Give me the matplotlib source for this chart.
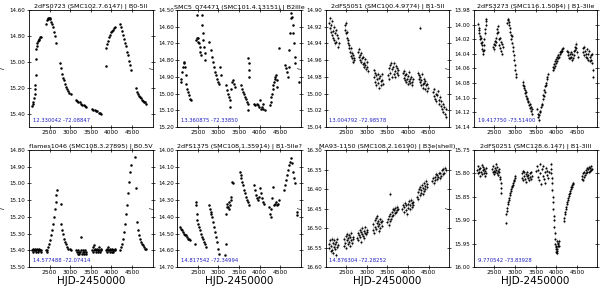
import numpy as np
import matplotlib.pyplot as plt
from matplotlib.ticker import MultipleLocator, FormatStrFormatter

titles = ['2dFS0723 (SMC102.7.6147) | B0-5II',
          'SMC5_074471 (SMC101.4.13151) | B2IIIe',
          '2dFS5051 (SMC100.4.9774) | B1-5II',
          '2dFS3273 (SMC116.1.5084) | B1-3IIe',
          'flames1046 (SMC108.3.27895) | B0.5V',
          '2dFS1375 (SMC108.1.35914) | B1-5IIe?',
          'MA93-1150 (SMC108.2.16190) | B3e(shell)',
          '2dFS0251 (SMC128.6.147) | B1-3III']
coords = ['12.330042 -72.08847', '13.360875 -72.33850', '13.004792 -72.98578',
          '19.417750 -73.51400', '14.577488 -72.07414', '14.817542 -72.34994',
          '14.876304 -72.28252', '9.770542 -73.83928']
ylims = [(15.5, 14.6), (15.2, 14.5), (15.04, 14.90), (14.14, 13.98),
         (15.5, 14.8), (14.7, 14.0), (16.6, 16.3), (16.0, 15.75)]
ysteps = [0.2, 0.1, 0.02, 0.02, 0.1, 0.1, 0.05, 0.05]
errs = [0, 0, 0.003, 0.003, 0, 0, 0.007, 0.004]
xticks = [2500, 3000, 3500, 4000, 4500]

lc1 = [(2073,15.34),(2089,15.32),(2105,15.31),(2122,15.28),(2138,15.25),(2146,15.21),(2154,15.18),(2162,15.10),
       (2170,14.98),(2178,14.90),(2194,14.88),(2203,14.85),(2219,14.84),(2235,14.83),(2251,14.82),(2267,14.81),(2284,14.81),
       (2421,14.71),(2437,14.68),(2454,14.67),(2470,14.66),(2486,14.66),(2502,14.66),(2518,14.67),(2543,14.69),(2567,14.71),
       (2591,14.73),(2616,14.77),(2640,14.80),(2664,14.85),
       (2761,15.01),(2786,15.05),(2810,15.09),(2834,15.12),(2859,15.14),(2883,15.17),(2907,15.19),(2932,15.21),(2956,15.22),
       (2980,15.24),(3013,15.25),
       (3134,15.29),(3166,15.30),(3199,15.31),(3231,15.31),(3264,15.32),(3296,15.33),(3328,15.33),(3361,15.34),(3393,15.35),
       (3531,15.36),(3563,15.37),(3596,15.37),(3628,15.38),(3660,15.38),(3693,15.39),(3725,15.39),(3758,15.40),
       (3863,15.03),(3879,14.89),(3904,14.86),(3928,14.84),(3952,14.81),(3976,14.79),(4001,14.77),(4025,14.76),(4049,14.75),
       (4074,14.74),(4098,14.73),
       (4219,14.71),(4244,14.73),(4268,14.76),(4292,14.79),(4317,14.82),(4341,14.85),(4365,14.88),(4389,14.92),(4414,14.95),
       (4438,14.99),(4462,15.02),(4487,15.06),
       (4600,15.20),(4624,15.23),(4649,15.25),(4673,15.26),(4697,15.27),(4722,15.28),(4746,15.29),(4770,15.30),(4795,15.31),
       (4819,15.31),(4851,15.32)]

lc2 = [(2081,14.93),(2097,14.91),(2113,14.87),(2130,14.84),(2154,14.82),(2170,14.81),(2186,14.84),(2203,14.89),(2219,14.94),
       (2235,14.97),(2251,14.99),(2275,15.01),(2300,15.03),(2324,15.04),
       (2454,14.68),(2470,14.53),(2478,14.67),(2494,14.69),(2510,14.67),(2527,14.70),(2543,14.72),(2559,14.75),(2575,14.77),
       (2591,14.53),(2599,14.59),(2616,14.64),(2632,14.68),(2648,14.72),(2664,14.76),(2680,14.80),(2778,14.69),
       (2818,14.74),(2842,14.78),(2867,14.81),(2891,14.84),(2915,14.87),(2940,14.89),(2964,14.91),(2988,14.93),(3013,14.94),
       (3037,14.84),(3053,14.89),
       (3183,14.95),(3207,14.98),(3231,15.00),(3256,15.02),(3280,15.04),(3280,15.08),(3304,14.97),(3328,14.93),(3353,14.92),
       (3377,14.94),(3401,14.96),
       (3539,14.95),(3563,14.97),(3588,14.99),(3612,15.00),(3636,15.02),(3661,15.03),(3685,15.05),(3709,15.06),(3709,15.10),
       (3725,14.79),(3734,14.82),(3742,14.86),(3750,14.90),
       (3863,15.06),(3895,15.07),(3928,15.06),(3960,15.07),(3993,15.08),(4025,15.09),(4058,15.08),(4090,15.09),(4122,15.10),
       (4009,15.04),(4074,15.06),
       (4252,15.07),(4268,15.05),(4284,15.02),(4300,15.00),(4317,14.97),(4333,14.95),(4349,14.93),(4365,14.91),(4381,14.90),
       (4397,14.89),(4414,14.92),(4430,14.96),(4479,14.73),
       (4616,14.83),(4641,14.85),(4665,14.87),(4689,14.90),(4705,14.84),(4722,14.74),(4738,14.64),(4754,14.55),(4770,14.52),
       (4786,14.54),(4803,14.59),(4819,14.64),(4835,14.70),(4851,14.78),(4868,14.82),(4949,14.93)]

lc3 = [(2082,14.915),(2095,14.922),(2108,14.910),(2121,14.926),(2134,14.918),(2147,14.930),(2160,14.913),(2173,14.925),
       (2186,14.933),(2199,14.920),(2212,14.936),(2225,14.927),(2238,14.940),(2251,14.924),(2264,14.938),(2277,14.930),
       (2290,14.944),(2305,14.933),(2318,14.940),
       (2462,14.918),(2475,14.924),(2488,14.915),(2501,14.928),(2514,14.934),(2527,14.926),(2540,14.940),(2553,14.936),
       (2566,14.945),(2579,14.942),(2592,14.950),(2605,14.946),(2618,14.955),(2631,14.951),(2644,14.958),(2657,14.954),
       (2670,14.962),(2685,14.957),(2700,14.960),
       (2786,14.950),(2800,14.956),(2814,14.947),(2828,14.960),(2842,14.954),(2856,14.962),(2870,14.951),(2884,14.958),
       (2898,14.965),(2912,14.956),(2926,14.963),(2940,14.968),(2954,14.959),(2968,14.966),(2982,14.971),(2996,14.962),
       (3010,14.968),(3025,14.973),
       (3166,14.972),(3180,14.980),(3194,14.975),(3208,14.986),(3222,14.978),(3236,14.990),(3250,14.982),(3264,14.976),
       (3278,14.987),(3292,14.981),(3306,14.993),(3320,14.979),(3334,14.985),(3348,14.990),(3362,14.977),(3376,14.984),
       (3390,14.988),
       (3515,14.978),(3530,14.970),(3545,14.982),(3560,14.966),(3575,14.975),(3590,14.963),(3605,14.980),(3620,14.971),
       (3635,14.968),(3650,14.976),(3665,14.964),(3680,14.973),(3695,14.980),(3710,14.967),(3725,14.975),(3740,14.970),
       (3755,14.978),(3770,14.972),
       (3879,14.975),(3893,14.981),(3907,14.973),(3921,14.984),(3935,14.978),(3949,14.986),(3963,14.976),(3977,14.982),
       (3991,14.988),(4005,14.979),(4019,14.985),(4033,14.974),(4047,14.983),(4061,14.987),(4075,14.980),(4089,14.986),
       (4103,14.990),(4118,14.983),
       (4244,14.975),(4258,14.982),(4272,14.978),(4284,14.921),(4286,14.986),(4300,14.980),(4314,14.990),(4328,14.984),
       (4342,14.976),(4356,14.988),(4370,14.993),(4384,14.982),(4398,14.987),(4412,14.995),(4426,14.985),(4440,14.990),
       (4454,14.997),(4468,14.988),(4482,14.993),
       (4608,14.998),(4625,15.003),(4642,14.995),(4659,15.006),(4676,15.000),(4693,15.009),(4710,15.002),(4727,14.997),
       (4744,15.008),(4761,15.012),(4778,15.004),(4795,15.015),(4812,15.009),(4829,15.019),(4846,15.012),(4863,15.022),
       (4880,15.016),(4897,15.025),(4914,15.018),(4930,15.028)]

lc4 = [(2105,13.999),(2115,14.004),(2125,14.008),(2135,14.012),(2145,14.016),(2155,14.020),(2165,14.018),(2175,14.025),
       (2185,14.028),(2195,14.024),(2205,14.033),(2215,14.036),(2225,14.040),(2235,14.035),(2245,14.028),(2255,14.020),
       (2265,14.012),(2275,14.006),(2285,14.000),(2295,13.995),(2305,13.992),
       (2470,14.030),(2482,14.026),(2494,14.034),(2506,14.022),(2518,14.028),(2530,14.018),(2542,14.024),(2554,14.012),
       (2566,14.006),(2578,14.002),(2590,14.010),(2602,14.020),(2614,14.028),(2626,14.018),(2638,14.032),(2650,14.024),
       (2662,14.036),(2674,14.026),(2686,14.040),(2697,14.030),
       (2810,13.998),(2822,13.994),(2834,13.992),(2846,13.996),(2858,14.000),(2870,14.005),(2882,14.010),(2894,14.014),
       (2906,14.020),(2918,14.016),(2930,14.025),(2942,14.030),(2954,14.036),(2966,14.042),(2978,14.048),(2990,14.055),
       (3002,14.062),(3014,14.068),(3026,14.072),
       (3183,14.078),(3196,14.082),(3209,14.086),(3222,14.084),(3235,14.090),(3248,14.094),(3261,14.092),(3274,14.098),
       (3287,14.102),(3300,14.100),(3313,14.106),(3326,14.104),(3339,14.110),(3352,14.108),(3365,14.114),(3378,14.112),
       (3391,14.118),(3404,14.116),(3417,14.122),
       (3539,14.115),(3552,14.122),(3565,14.126),(3578,14.130),(3591,14.124),(3604,14.118),(3617,14.120),(3630,14.112),
       (3643,14.108),(3656,14.110),(3669,14.102),(3682,14.096),(3695,14.098),(3708,14.090),(3721,14.092),(3734,14.084),
       (3747,14.080),(3760,14.082),(3773,14.075),(3786,14.072),(3800,14.068),
       (3912,14.062),(3925,14.058),(3938,14.060),(3951,14.054),(3964,14.056),(3977,14.050),(3990,14.052),(4003,14.047),
       (4016,14.050),(4029,14.044),(4042,14.046),(4055,14.041),(4068,14.044),(4081,14.038),(4094,14.040),(4107,14.036),
       (4120,14.038),(4133,14.034),(4146,14.036),(4160,14.032),
       (4268,14.036),(4282,14.042),(4296,14.038),(4310,14.045),(4324,14.040),(4338,14.046),(4352,14.038),(4366,14.044),
       (4380,14.048),(4394,14.040),(4408,14.045),(4422,14.036),(4436,14.042),(4450,14.035),(4464,14.030),(4478,14.026),
       (4492,14.032),(4506,14.038),(4520,14.044),
       (4641,14.032),(4655,14.038),(4669,14.030),(4683,14.042),(4697,14.036),(4711,14.044),(4725,14.040),(4739,14.034),
       (4753,14.046),(4767,14.040),(4781,14.048),(4795,14.036),(4809,14.044),(4823,14.050),(4837,14.042),(4851,14.048),
       (4865,14.040),(4879,14.052),(4893,14.062),(4905,14.072)]

lc5 = [(2073,15.40),(2090,15.39),(2105,15.41),(2120,15.40),(2135,15.39),(2150,15.40),(2165,15.41),(2180,15.40),
       (2195,15.39),(2210,15.40),(2225,15.41),(2240,15.40),(2255,15.39),(2270,15.40),(2285,15.40),(2300,15.41),
       (2420,15.40),(2430,15.41),(2437,15.40),(2462,15.38),(2486,15.36),(2510,15.34),(2535,15.31),(2559,15.28),(2583,15.24),
       (2608,15.20),(2632,15.15),(2648,15.11),(2664,15.07),(2680,15.04),(2770,15.12),
       (2786,15.24),(2802,15.28),(2818,15.30),(2842,15.33),(2867,15.35),(2891,15.36),(2923,15.38),(2956,15.39),(2988,15.39),
       (3021,15.40),
       (3150,15.40),(3165,15.41),(3180,15.42),(3195,15.40),(3210,15.41),(3225,15.42),(3240,15.41),(3255,15.40),(3272,15.32),
       (3285,15.42),(3300,15.41),(3315,15.40),(3330,15.42),(3345,15.41),(3360,15.40),(3375,15.41),(3390,15.42),
       (3530,15.40),(3545,15.38),(3560,15.41),(3575,15.40),(3590,15.37),(3605,15.39),(3620,15.41),(3635,15.40),(3650,15.39),
       (3665,15.41),(3680,15.40),(3695,15.38),(3710,15.40),(3725,15.41),(3740,15.40),(3755,15.39),
       (3870,15.40),(3885,15.39),(3900,15.41),(3915,15.40),(3930,15.38),(3945,15.40),(3960,15.41),(3975,15.39),(3990,15.40),
       (4005,15.41),(4020,15.39),(4035,15.40),(4050,15.41),(4065,15.40),(4080,15.39),(4095,15.40),
       (4219,15.40),(4244,15.38),(4268,15.36),(4292,15.33),(4317,15.29),(4341,15.24),(4365,15.18),(4389,15.13),(4414,15.06),
       (4438,14.99),(4462,14.93),(4487,14.89),(4568,14.84),
       (4608,15.03),(4632,15.23),(4657,15.28),(4681,15.31),(4705,15.33),(4730,15.35),(4754,15.36),(4778,15.37),(4803,15.38),
       (4827,15.39),(4851,15.39)]

lc6 = [(2073,14.46),(2097,14.47),(2122,14.48),(2146,14.49),(2170,14.50),(2194,14.51),(2219,14.51),(2243,14.52),(2267,14.53),
       (2292,14.53),(2316,14.54),
       (2438,14.56),(2454,14.31),(2462,14.33),(2470,14.38),(2478,14.42),(2494,14.44),(2519,14.46),(2543,14.48),(2567,14.50),
       (2592,14.52),(2616,14.53),(2640,14.55),(2664,14.56),(2689,14.58),
       (2778,14.33),(2794,14.35),(2810,14.37),(2826,14.38),(2842,14.40),(2867,14.43),(2891,14.46),(2915,14.49),(2940,14.52),
       (2964,14.55),(2988,14.59),(3005,14.62),
       (3158,14.63),(3175,14.56),(3183,14.38),(3199,14.34),(3215,14.32),(3231,14.34),(3248,14.31),(3264,14.35),(3280,14.33),
       (3296,14.30),(3312,14.28),(3329,14.19),(3345,14.20),
       (3523,14.13),(3539,14.15),(3555,14.17),(3572,14.19),(3588,14.21),(3612,14.24),(3636,14.26),(3661,14.28),(3685,14.30),
       (3709,14.31),(3734,14.33),
       (3871,14.21),(3895,14.24),(3920,14.27),(3944,14.29),(3968,14.30),(3993,14.28),(4017,14.23),(4041,14.26),(4066,14.29),
       (4090,14.31),(4114,14.32),
       (4236,14.34),(4252,14.38),(4268,14.40),(4284,14.35),(4301,14.29),(4317,14.22),(4341,14.33),(4365,14.32),(4389,14.31),
       (4414,14.33),(4438,14.32),(4462,14.30),
       (4601,14.24),(4625,14.21),(4649,14.18),(4673,14.15),(4697,14.12),(4722,14.09),(4746,14.07),(4770,14.05),(4795,14.08),
       (4819,14.13),(4843,14.17),(4868,14.20),(4908,14.37),(4916,14.39)]

lc7 = [(2081,16.540),(2094,16.552),(2107,16.532),(2120,16.560),(2133,16.545),(2146,16.528),(2159,16.556),(2172,16.538),
       (2185,16.565),(2198,16.548),(2211,16.530),(2224,16.553),(2237,16.542),(2250,16.570),(2263,16.536),(2276,16.549),
       (2289,16.527),(2302,16.544),
       (2446,16.545),(2459,16.528),(2472,16.538),(2485,16.520),(2498,16.550),(2511,16.532),(2524,16.515),(2537,16.540),
       (2550,16.526),(2563,16.535),(2576,16.518),(2589,16.545),(2602,16.522),(2615,16.530),(2628,16.512),(2641,16.538),
       (2654,16.524),(2665,16.528),
       (2770,16.525),(2784,16.512),(2798,16.530),(2812,16.518),(2826,16.505),(2840,16.522),(2854,16.510),(2868,16.535),
       (2882,16.515),(2896,16.500),(2910,16.520),(2924,16.508),(2938,16.526),(2952,16.512),(2966,16.498),(2980,16.515),
       (2994,16.505),(3008,16.510),
       (3150,16.505),(3163,16.490),(3176,16.512),(3189,16.480),(3202,16.498),(3215,16.475),(3228,16.502),(3241,16.488),
       (3254,16.470),(3267,16.495),(3280,16.482),(3293,16.508),(3306,16.490),(3319,16.478),(3332,16.500),(3345,16.485),
       (3358,16.494),(3371,16.482),
       (3499,16.485),(3514,16.478),(3529,16.492),(3544,16.470),(3556,16.412),(3559,16.482),(3574,16.465),(3589,16.476),
       (3604,16.458),(3619,16.470),(3634,16.450),(3649,16.466),(3664,16.455),(3679,16.462),(3694,16.448),(3709,16.458),
       (3724,16.445),(3739,16.455),(3754,16.450),
       (3863,16.452),(3879,16.440),(3895,16.460),(3911,16.445),(3927,16.435),(3943,16.455),(3959,16.442),(3975,16.465),
       (3991,16.438),(4007,16.448),(4023,16.430),(4039,16.452),(4055,16.440),(4071,16.428),(4087,16.446),(4103,16.435),
       (4119,16.442),(4135,16.432),
       (4228,16.420),(4242,16.408),(4256,16.425),(4270,16.400),(4284,16.415),(4298,16.395),(4312,16.410),(4326,16.402),
       (4340,16.390),(4354,16.412),(4368,16.398),(4382,16.405),(4396,16.385),(4410,16.400),(4424,16.392),(4438,16.380),
       (4452,16.396),(4466,16.388),
       (4592,16.380),(4610,16.372),(4628,16.385),(4646,16.368),(4664,16.378),(4682,16.362),(4700,16.375),(4718,16.365),
       (4736,16.370),(4754,16.358),(4772,16.372),(4790,16.360),(4808,16.366),(4826,16.352),(4844,16.362),(4862,16.348),
       (4880,16.358),(4898,16.345),(4914,16.352)]

lc8 = [(2081,15.792),(2094,15.800),(2107,15.785),(2120,15.798),(2133,15.790),(2146,15.805),(2159,15.788),(2172,15.796),
       (2185,15.782),(2198,15.802),(2211,15.793),(2224,15.786),(2237,15.799),(2250,15.791),(2263,15.806),(2276,15.795),
       (2289,15.788),(2300,15.800),
       (2446,15.790),(2458,15.798),(2470,15.784),(2482,15.795),(2494,15.802),(2506,15.788),(2518,15.796),(2530,15.780),
       (2542,15.793),(2554,15.800),(2566,15.787),(2578,15.795),(2590,15.804),(2602,15.790),(2614,15.798),(2626,15.808),
       (2638,15.812),(2650,15.820),(2660,15.832),(2668,15.842),
       (2770,15.905),(2786,15.887),(2798,15.880),(2810,15.873),(2822,15.866),(2834,15.862),(2846,15.857),(2859,15.852),
       (2871,15.846),(2883,15.841),(2895,15.838),(2907,15.834),(2920,15.830),(2932,15.827),(2944,15.824),(2956,15.820),
       (2968,15.816),(2980,15.813),(2992,15.810),(3004,15.806),
       (3158,15.800),(3172,15.810),(3186,15.795),(3200,15.815),(3214,15.805),(3228,15.798),(3242,15.812),(3256,15.802),
       (3270,15.818),(3284,15.806),(3298,15.796),(3312,15.810),(3326,15.804),(3340,15.815),(3354,15.800),(3368,15.808),
       (3382,15.798),(3396,15.812),(3410,15.805),
       (3515,15.795),(3532,15.785),(3549,15.808),(3566,15.792),(3583,15.815),(3600,15.780),(3617,15.800),(3634,15.822),
       (3651,15.790),(3668,15.805),(3685,15.784),(3702,15.812),(3719,15.796),(3736,15.820),(3753,15.788),(3770,15.803),
       (3787,15.794),(3804,15.810),(3820,15.798),
       (3863,15.780),(3871,15.790),(3879,15.800),(3887,15.810),(3895,15.820),(3903,15.835),(3912,15.850),(3920,15.862),
       (3928,15.877),(3936,15.890),(3944,15.900),(3952,15.915),(3960,15.927),(3968,15.940),(3976,15.950),(3985,15.958),
       (3993,15.962),(4001,15.968),(4005,15.955),(4009,15.970),(4017,15.965),(4020,15.945),(4025,15.962),(4033,15.955),
       (4041,15.950),(4050,15.948),(4058,15.945),(4066,15.955),
       (4187,15.902),(4199,15.895),(4211,15.887),(4223,15.882),(4235,15.877),(4248,15.871),(4260,15.866),(4272,15.861),
       (4284,15.857),(4296,15.852),(4308,15.848),(4320,15.844),(4333,15.841),(4345,15.837),(4357,15.834),(4369,15.830),
       (4381,15.828),(4393,15.825),(4406,15.823),(4418,15.820),
       (4616,15.812),(4630,15.805),(4644,15.815),(4658,15.800),(4672,15.808),(4686,15.796),(4700,15.804),(4714,15.792),
       (4728,15.800),(4742,15.788),(4756,15.797),(4770,15.790),(4784,15.798),(4798,15.786),(4812,15.795),(4826,15.788),
       (4840,15.793),(4854,15.785),(4868,15.790)]

curves = [lc1, lc2, lc3, lc4, lc5, lc6, lc7, lc8]

fig = plt.figure(figsize=(6, 2.86), dpi=100)
for i in range(8):
    row, col = divmod(i, 4)
    left = (29 + col * 148.3) / 600
    bottom = 0.556 if row == 0 else 0.0664
    ax = fig.add_axes([left, bottom, 123.5 / 600, 0.409])
    t, m = np.array(curves[i]).T
    if errs[i]:
        ax.errorbar(t, m, yerr=errs[i], fmt='o', color='k', ms=1.5, mew=0,
                    ecolor='0.7', elinewidth=0.4, capsize=0)
    else:
        ax.plot(t, m, 'o', color='k', ms=1.8, mew=0)
    ax.set_xlim(2000, 5000)
    ax.set_ylim(*ylims[i])
    ax.set_xticks(xticks)
    ax.yaxis.set_major_locator(MultipleLocator(ysteps[i]))
    ax.yaxis.set_major_formatter(FormatStrFormatter('%.2f'))
    ax.tick_params(direction='inout', length=3, width=0.5, labelsize=4.3, pad=1,
                   top=True, right=True)
    ax.tick_params(axis='y', labelsize=4.0)
    for s in ax.spines.values():
        s.set_linewidth(0.6)
    ax.set_title(titles[i], fontsize=4.6, pad=1.5)
    ax.set_ylabel('$I$', fontsize=4.5)
    ax.yaxis.set_label_coords(-0.175, 0.5)
    ax.text(0.03, 0.04, coords[i], transform=ax.transAxes, fontsize=3.8, color='#2020c0')
    if row == 1:
        ax.set_xlabel('HJD-2450000', fontsize=7.5, labelpad=0.5)

fig.savefig('out.png', dpi=100)
